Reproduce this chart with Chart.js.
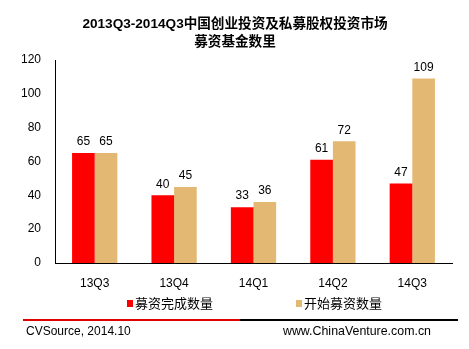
<!DOCTYPE html>
<html>
<head>
<meta charset="utf-8">
<script src="https://cdn.jsdelivr.net/npm/chart.js@4/dist/chart.umd.min.js"></script>
<style>
  html, body { margin: 0; padding: 0; background: #fff; }
  #wrap { width: 469px; height: 349px; position: relative; }
</style>
</head>
<body>
<div id="wrap"><canvas id="fund" width="469" height="349"></canvas></div>
<script>
var quarters = ["13Q3", "13Q4", "14Q1", "14Q2", "14Q3"];
var doneCount = [65, 40, 33, 61, 47];
var startCount = [65, 45, 36, 72, 109];
var seriesNames = ["募资完成数量", "开始募资数量"];
var seriesColors = ["#ff0000", "#e3b872"];
var titleLines = ["2013Q3-2014Q3中国创业投资及私募股权投资市场", "募资基金数里"];
var footLeft = "CVSource, 2014.10";
var footRight = "www.ChinaVenture.com.cn";

var FONT = "Arial, 'Liberation Sans', 'Noto Sans CJK SC', sans-serif";

// 柱顶数值
var valueLabels = {
    id: "valueLabels",
    afterDatasetsDraw: function(chart) {
        var ctx = chart.ctx;
        ctx.save();
        ctx.font = "12px " + FONT;
        ctx.fillStyle = "#000";
        ctx.textAlign = "center";
        ctx.textBaseline = "bottom";
        chart.data.datasets.forEach(function(ds, i) {
            chart.getDatasetMeta(i).data.forEach(function(bar, j) {
                ctx.fillText(ds.data[j], bar.x, bar.y - 5);
            });
        });
        ctx.restore();
    }
};

// 标题、图例、底部来源栏
var decor = {
    id: "decor",
    afterDraw: function(chart) {
        var ctx = chart.ctx;
        ctx.save();
        // title
        ctx.fillStyle = "#000";
        ctx.font = "bold 13.6px " + FONT;
        ctx.textAlign = "center";
        ctx.textBaseline = "middle";
        ctx.fillText(titleLines[0], 235, 24);
        ctx.fillText(titleLines[1], 235, 42);
        // legend
        var legendX = [127, 296];
        ctx.font = "13px " + FONT;
        ctx.textAlign = "left";
        chart.data.datasets.forEach(function(ds, i) {
            ctx.fillStyle = ds.backgroundColor;
            ctx.fillRect(legendX[i], 300, 6, 7);
            ctx.fillStyle = "#000";
            ctx.fillText(ds.label, legendX[i] + 8, 304);
        });
        // rule
        ctx.lineWidth = 2;
        ctx.strokeStyle = "#e00000";
        ctx.beginPath(); ctx.moveTo(23, 320); ctx.lineTo(240, 320); ctx.stroke();
        ctx.strokeStyle = "#000";
        ctx.beginPath(); ctx.moveTo(240, 320); ctx.lineTo(458, 320); ctx.stroke();
        ctx.font = "12px " + FONT;
        ctx.fillStyle = "#000";
        ctx.fillText(footLeft, 26, 332);
        ctx.textAlign = "right";
        ctx.font = "12.4px " + FONT;
        ctx.fillText(footRight, 431, 332);
        ctx.restore();
    }
};

var chart = new Chart(document.getElementById("fund"), {
    type: "bar",
    data: {
        labels: quarters,
        datasets: [{
            label: seriesNames[0],
            data: doneCount,
            backgroundColor: seriesColors[0],
            categoryPercentage: 0.57,
            barPercentage: 1
        }, {
            label: seriesNames[1],
            data: startCount,
            backgroundColor: seriesColors[1],
            categoryPercentage: 0.57,
            barPercentage: 1
        }]
    },
    options: {
        responsive: false,
        animation: false,
        devicePixelRatio: 1,
        layout: { padding: { left: 0, right: 17, top: 60, bottom: 56 } },
        plugins: {
            title: { display: false },
            legend: { display: false },
            tooltip: { enabled: false }
        },
        scales: {
            x: {
                grid: { display: false },
                border: { display: true, color: "#000", width: 1 },
                ticks: { color: "#000", font: { family: FONT, size: 12 }, padding: 5 },
                afterFit: function(scale) { scale.height = 30; }
            },
            y: {
                min: 0,
                max: 120,
                grid: { display: false },
                border: { display: true, color: "#000", width: 1 },
                ticks: { stepSize: 20, color: "#000", font: { family: FONT, size: 12 }, padding: 6 },
                afterFit: function(scale) { scale.width = 55; }
            }
        }
    },
    plugins: [valueLabels, decor]
});
</script>
</body>
</html>
